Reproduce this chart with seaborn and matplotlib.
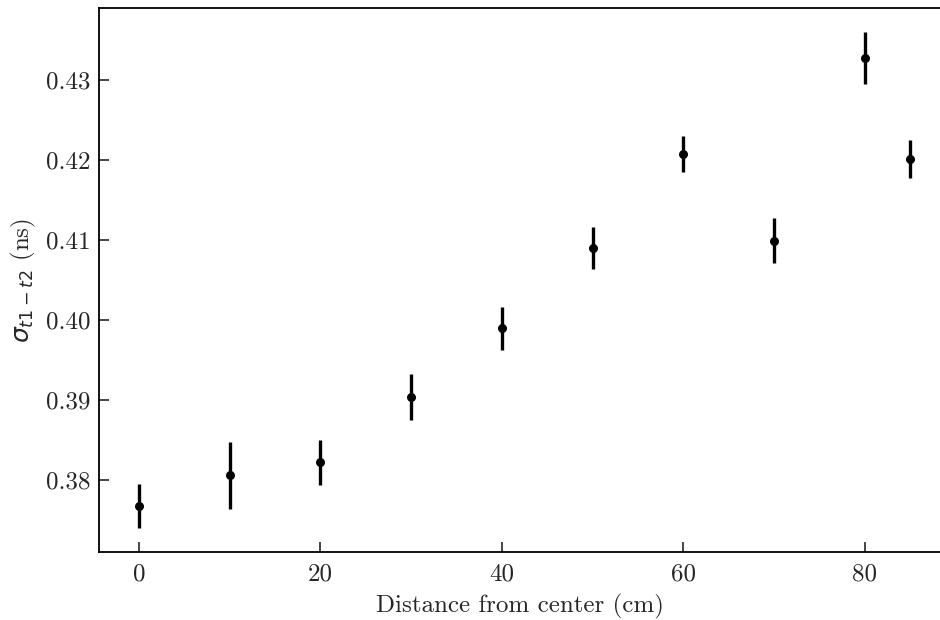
import matplotlib
matplotlib.use("Agg")
import matplotlib.pyplot as plt
import seaborn as sns
import numpy as np
import pandas as pd

distance = [0, 10, 20, 30, 40, 50, 60, 70, 80, 85]
sigma = [0.37675, 0.38059, 0.38221, 0.39041, 0.39896, 0.40900, 0.42075, 0.40991, 0.43275, 0.42009]
sigma_err = [0.0027, 0.0042, 0.0028, 0.0029, 0.0027, 0.0026, 0.0022, 0.0028, 0.0032, 0.0024]
yticks = [0.38, 0.39, 0.40, 0.41, 0.42, 0.43]
xticks = [0, 20, 40, 60, 80]

df = pd.DataFrame({"distance": distance, "sigma": sigma, "err": sigma_err})

sns.set_theme(style="white")
plt.rcParams["font.family"] = ["cmr10", "DejaVu Sans"]
plt.rcParams["axes.formatter.use_mathtext"] = True
plt.rcParams["mathtext.fontset"] = "dejavusans"

fig = plt.figure(figsize=(9.4, 6.2), dpi=100)
ax = fig.add_axes([99/940, 68/620, 1 - 99/940, (552-8)/620])

ax.errorbar(df["distance"], df["sigma"], yerr=df["err"], fmt="none",
            ecolor="black", elinewidth=2.4, capsize=0, zorder=2)
sns.scatterplot(data=df, x="distance", y="sigma", color="black", s=42,
                edgecolor="black", linewidth=0, ax=ax, zorder=3)

ax.set_xlim(-4.41, 88.3)
ax.set_ylim(0.371, 0.4390)
ax.set_xticks(xticks)
ax.set_yticks(yticks)
ax.set_xticklabels([str(v) for v in xticks])
ax.set_yticklabels([f"{v:.2f}" for v in yticks])
ax.tick_params(direction="in", length=7, width=1.2, labelsize=18,
               left=True, bottom=True, top=False, right=False)
ax.tick_params(axis="y", pad=6)
ax.tick_params(axis="x", pad=8)
for side in ["left", "bottom", "top"]:
    ax.spines[side].set_color("black")
    ax.spines[side].set_linewidth(1.3)
ax.spines["right"].set_visible(False)

ax.set_xlabel("Distance from center (cm)", fontsize=18, labelpad=6)
ax.set_ylabel(r"$\sigma_{t1-t2}$ (ns)", fontsize=18, labelpad=6)

fig.savefig("out.png", dpi=100)
